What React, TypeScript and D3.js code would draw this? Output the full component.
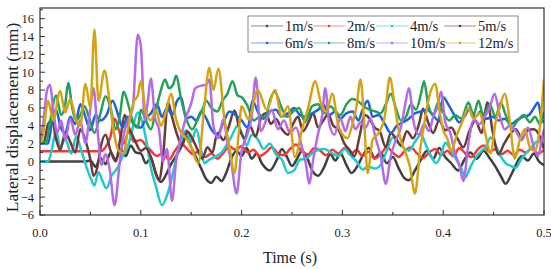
import { useEffect, useRef } from "react";
import * as d3 from "d3";

// Lateral displacement (mm) vs time (s) as [t, value] pairs
const labels = ["1m/s", "2m/s", "4m/s", "5m/s", "6m/s", "8m/s", "10m/s", "12m/s"];
const colors = ["#404040", "#ee3b3b", "#22c8cc", "#6b3a3a", "#1f62d8", "#27a05a", "#b46ce6", "#d4a417"];

const s1: [number, number][] = [[0,0],[0.045,0],[0.05,0.1],[0.055,-0.6],[0.06,0.4],[0.065,-0.3],[0.07,1.0],[0.075,0.2],[0.08,1.4],[0.085,0.6],[0.09,1.8],[0.095,1.0],[0.1,0.9],[0.105,-0.2],[0.11,0.4],[0.115,-1.4],[0.12,-2.3],[0.125,-1.5],[0.13,-0.3],[0.135,0.6],[0.14,1.6],[0.145,2.8],[0.15,1.6],[0.155,0.4],[0.16,-0.8],[0.165,-2.0],[0.17,-2.4],[0.175,-1.7],[0.18,-2.2],[0.185,-1.2],[0.19,0.4],[0.195,1.2],[0.2,0.6],[0.205,1.5],[0.21,0.3],[0.215,0.9],[0.22,-0.2],[0.228,-1.0],[0.235,0.2],[0.24,1.4],[0.245,0.5],[0.25,-0.5],[0.255,0.3],[0.26,1.2],[0.265,0.4],[0.27,-1.0],[0.276,-1.6],[0.282,-0.6],[0.288,0.8],[0.293,0.1],[0.298,0.9],[0.304,-0.4],[0.309,-1.3],[0.315,-0.5],[0.32,0.6],[0.326,1.5],[0.332,0.4],[0.338,1.0],[0.344,-0.2],[0.35,0.5],[0.356,-0.8],[0.361,-1.8],[0.366,-2.1],[0.372,-1.0],[0.378,0.2],[0.384,1.2],[0.39,0.3],[0.396,1.5],[0.402,0.5],[0.408,-0.2],[0.415,-1.0],[0.421,0.2],[0.427,1.0],[0.433,0.3],[0.44,1.2],[0.446,0.4],[0.452,-0.6],[0.457,-1.6],[0.462,-2.5],[0.467,-1.6],[0.472,-0.4],[0.478,0.6],[0.484,0.1],[0.49,0.9],[0.495,0.0],[0.5,-0.4]];
const s2: [number, number][] = [[0,1.15],[0.06,1.15],[0.065,1.6],[0.07,2.8],[0.074,4.8],[0.078,3.6],[0.083,2.0],[0.088,3.4],[0.093,2.2],[0.1,2.4],[0.105,1.8],[0.11,1.2],[0.116,0.6],[0.122,1.0],[0.128,0.2],[0.134,1.2],[0.14,2.0],[0.146,1.4],[0.152,0.8],[0.158,1.2],[0.164,0.5],[0.17,0.9],[0.176,0.3],[0.182,1.0],[0.188,1.7],[0.194,1.3],[0.2,1.7],[0.206,1.0],[0.212,1.3],[0.218,0.6],[0.224,1.0],[0.23,1.6],[0.236,0.9],[0.242,0.7],[0.248,1.4],[0.254,1.9],[0.26,1.1],[0.266,0.8],[0.272,1.5],[0.278,1.2],[0.284,0.7],[0.29,1.3],[0.296,0.9],[0.302,1.5],[0.308,0.8],[0.314,1.3],[0.32,0.6],[0.326,1.1],[0.332,0.3],[0.338,0.8],[0.344,1.6],[0.35,1.0],[0.356,0.5],[0.362,1.2],[0.368,1.6],[0.374,0.9],[0.38,0.4],[0.386,1.0],[0.392,1.4],[0.398,0.7],[0.404,1.2],[0.41,0.6],[0.416,1.5],[0.422,0.9],[0.428,0.5],[0.434,1.3],[0.44,1.8],[0.446,1.1],[0.452,1.4],[0.458,0.8],[0.464,1.2],[0.47,0.7],[0.476,1.3],[0.482,1.0],[0.488,1.5],[0.494,0.9],[0.5,1.3]];
const s4: [number, number][] = [[0,0],[0.008,0],[0.012,1.5],[0.016,3.5],[0.02,1.6],[0.025,2.5],[0.031,0.9],[0.036,2.8],[0.041,1.2],[0.046,-0.6],[0.05,-1.8],[0.054,-2.7],[0.058,-1.2],[0.062,-2.2],[0.066,-3.0],[0.071,-1.6],[0.077,-0.7],[0.082,0.6],[0.087,1.6],[0.092,3.8],[0.097,5.5],[0.101,4.6],[0.106,2.0],[0.11,-0.7],[0.115,-2.8],[0.121,-4.9],[0.126,-3.8],[0.13,-2.2],[0.135,0.3],[0.14,2.3],[0.145,3.5],[0.15,2.2],[0.155,3.6],[0.16,1.2],[0.163,-0.2],[0.168,0.2],[0.175,0.6],[0.18,1.0],[0.185,1.8],[0.19,2.8],[0.196,4.0],[0.2,3.3],[0.205,1.8],[0.21,3.0],[0.216,2.5],[0.222,1.4],[0.228,2.0],[0.234,0.8],[0.24,0.2],[0.246,-1.3],[0.252,-1.0],[0.258,0.2],[0.263,0.3],[0.27,0.9],[0.276,1.3],[0.282,1.4],[0.29,0.9],[0.296,0.6],[0.302,1.4],[0.308,0.7],[0.314,0.0],[0.32,-0.9],[0.326,-0.6],[0.332,-0.8],[0.338,-0.4],[0.344,1.2],[0.35,2.7],[0.356,2.0],[0.36,1.6],[0.366,1.2],[0.372,2.2],[0.378,3.0],[0.383,1.8],[0.388,0.6],[0.393,-0.2],[0.398,0.8],[0.402,2.1],[0.408,1.2],[0.413,0.2],[0.418,-0.8],[0.422,-1.8],[0.427,-0.6],[0.432,0.4],[0.438,1.2],[0.442,1.6],[0.447,2.7],[0.452,1.8],[0.457,0.6],[0.462,-0.2],[0.467,-0.5],[0.472,-0.7],[0.477,0.2],[0.482,0.9],[0.488,1.6],[0.494,2.3],[0.5,1.6]];
const s5: [number, number][] = [[0,2.0],[0.004,2.2],[0.008,4.2],[0.012,4.6],[0.016,2.5],[0.02,1.3],[0.025,3.2],[0.03,2.2],[0.035,1.0],[0.04,3.6],[0.045,2.4],[0.05,0.2],[0.053,-1.6],[0.057,-0.6],[0.06,1.5],[0.065,3.0],[0.07,1.2],[0.075,0.0],[0.08,2.8],[0.084,5.2],[0.089,3.6],[0.094,2.4],[0.1,1.2],[0.105,1.5],[0.11,0.5],[0.114,-1.0],[0.118,-2.1],[0.122,0.5],[0.127,6.6],[0.131,5.0],[0.136,3.0],[0.141,1.8],[0.146,3.4],[0.151,2.6],[0.156,1.4],[0.161,0.3],[0.166,1.6],[0.171,1.0],[0.176,3.2],[0.182,2.4],[0.187,3.8],[0.193,5.7],[0.198,3.6],[0.203,2.6],[0.208,4.0],[0.214,2.8],[0.219,4.8],[0.224,5.4],[0.229,4.2],[0.234,4.8],[0.24,3.6],[0.246,3.0],[0.251,4.2],[0.256,5.0],[0.261,3.4],[0.266,4.3],[0.271,5.4],[0.276,3.8],[0.281,4.6],[0.286,5.3],[0.291,4.0],[0.296,3.6],[0.302,2.0],[0.307,1.3],[0.312,0.6],[0.317,2.8],[0.322,5.2],[0.327,4.8],[0.332,3.8],[0.337,3.4],[0.343,1.6],[0.348,3.2],[0.353,2.6],[0.358,1.8],[0.364,3.4],[0.37,2.6],[0.376,4.2],[0.38,5.9],[0.385,4.4],[0.39,3.2],[0.396,4.6],[0.402,3.5],[0.408,3.8],[0.414,2.6],[0.42,1.6],[0.426,3.4],[0.432,4.6],[0.438,3.2],[0.444,6.6],[0.449,3.4],[0.455,0.8],[0.46,1.9],[0.466,3.0],[0.472,3.6],[0.478,2.6],[0.484,3.5],[0.49,3.6],[0.495,3.0],[0.5,1.4]];
const s6: [number, number][] = [[0,2.0],[0.008,2.0],[0.012,4.5],[0.016,5.8],[0.02,4.0],[0.025,3.2],[0.03,5.0],[0.035,4.2],[0.04,6.4],[0.045,5.0],[0.05,3.5],[0.055,5.2],[0.06,4.6],[0.066,5.2],[0.072,6.8],[0.077,5.4],[0.082,3.8],[0.087,5.0],[0.093,4.2],[0.1,3.8],[0.105,4.8],[0.11,5.4],[0.116,6.4],[0.121,5.0],[0.126,6.0],[0.131,5.2],[0.136,6.8],[0.14,7.2],[0.145,4.8],[0.15,5.0],[0.155,4.6],[0.16,5.6],[0.165,4.8],[0.17,3.6],[0.176,3.0],[0.182,4.4],[0.188,5.6],[0.194,5.2],[0.2,4.6],[0.206,3.8],[0.211,6.8],[0.216,5.6],[0.222,4.8],[0.228,5.6],[0.234,5.8],[0.24,5.0],[0.246,5.4],[0.252,6.0],[0.258,5.2],[0.264,5.0],[0.27,5.4],[0.276,5.8],[0.281,6.4],[0.287,5.2],[0.293,5.6],[0.298,4.8],[0.304,5.4],[0.31,5.6],[0.316,4.6],[0.32,5.8],[0.325,6.8],[0.33,5.0],[0.336,5.2],[0.342,4.2],[0.348,3.2],[0.354,4.0],[0.36,4.4],[0.366,4.8],[0.372,5.4],[0.378,5.6],[0.384,5.8],[0.39,5.2],[0.395,4.6],[0.4,7.2],[0.405,6.4],[0.41,5.4],[0.416,4.4],[0.421,5.0],[0.426,5.9],[0.432,5.0],[0.437,5.6],[0.443,4.8],[0.449,5.0],[0.455,4.6],[0.461,4.8],[0.467,4.2],[0.473,4.6],[0.479,5.0],[0.485,5.2],[0.49,6.0],[0.494,6.6],[0.498,4.6],[0.5,4.4]];
const s8: [number, number][] = [[0,2.1],[0.006,2.1],[0.01,4.5],[0.016,7.4],[0.021,5.2],[0.025,6.4],[0.028,8.8],[0.032,6.0],[0.036,4.6],[0.04,5.2],[0.044,6.2],[0.049,4.8],[0.054,3.2],[0.06,5.4],[0.065,7.3],[0.07,6.0],[0.075,3.6],[0.079,5.0],[0.083,7.8],[0.088,6.2],[0.093,4.2],[0.097,3.8],[0.1,5.8],[0.105,4.6],[0.11,3.6],[0.115,5.8],[0.12,8.0],[0.124,9.2],[0.128,8.2],[0.132,8.6],[0.135,9.6],[0.14,7.0],[0.145,4.8],[0.151,3.6],[0.156,4.6],[0.161,5.8],[0.165,6.8],[0.17,6.0],[0.176,5.6],[0.181,6.8],[0.186,7.6],[0.191,9.0],[0.196,7.4],[0.2,7.2],[0.206,6.2],[0.212,4.6],[0.218,5.0],[0.224,5.0],[0.228,6.8],[0.233,7.8],[0.239,6.2],[0.245,5.0],[0.251,5.6],[0.257,6.0],[0.263,4.4],[0.27,6.2],[0.276,6.4],[0.282,5.4],[0.288,6.2],[0.293,5.6],[0.298,5.2],[0.304,6.4],[0.31,7.0],[0.315,6.8],[0.321,6.2],[0.327,5.8],[0.333,5.6],[0.338,5.4],[0.343,6.4],[0.348,7.6],[0.353,6.0],[0.358,4.6],[0.363,5.0],[0.368,6.4],[0.373,5.8],[0.378,7.6],[0.381,9.0],[0.385,6.4],[0.39,5.2],[0.395,6.6],[0.4,5.5],[0.406,4.6],[0.412,5.2],[0.418,4.8],[0.425,6.6],[0.43,5.2],[0.435,6.8],[0.44,5.0],[0.446,6.4],[0.452,5.0],[0.457,6.6],[0.462,5.2],[0.468,3.8],[0.474,4.6],[0.48,5.2],[0.486,4.4],[0.491,5.0],[0.496,4.2],[0.5,5.6]];
const s10: [number, number][] = [[0,2.0],[0.003,4.0],[0.007,8.0],[0.01,8.6],[0.013,6.0],[0.017,3.2],[0.021,4.6],[0.025,2.4],[0.03,4.8],[0.035,3.0],[0.04,4.6],[0.045,2.0],[0.05,6.0],[0.053,8.2],[0.057,3.6],[0.061,-0.4],[0.065,0.8],[0.069,-0.8],[0.074,-4.9],[0.079,-0.2],[0.083,3.0],[0.088,4.8],[0.092,6.0],[0.097,14.2],[0.1,13.0],[0.104,4.6],[0.107,6.8],[0.11,9.3],[0.114,5.0],[0.118,3.6],[0.122,0.0],[0.126,1.4],[0.131,-4.4],[0.135,0.0],[0.14,2.8],[0.145,5.0],[0.15,6.5],[0.154,8.2],[0.16,8.5],[0.165,8.6],[0.168,9.2],[0.172,4.0],[0.177,2.6],[0.182,4.8],[0.186,2.0],[0.19,-0.3],[0.195,-3.6],[0.2,1.2],[0.205,2.8],[0.21,5.0],[0.214,9.4],[0.219,3.4],[0.225,4.8],[0.23,5.8],[0.236,3.6],[0.242,4.6],[0.248,3.2],[0.254,3.8],[0.259,2.0],[0.264,-0.4],[0.267,-2.5],[0.271,0.2],[0.276,3.2],[0.28,5.2],[0.283,8.2],[0.287,4.2],[0.292,3.0],[0.298,4.8],[0.303,3.4],[0.308,5.0],[0.313,3.6],[0.318,4.4],[0.323,3.8],[0.328,4.8],[0.333,2.6],[0.338,0.6],[0.343,-2.5],[0.348,0.6],[0.353,2.4],[0.358,3.8],[0.362,6.2],[0.366,8.2],[0.371,4.2],[0.376,3.0],[0.381,4.2],[0.386,3.4],[0.39,5.0],[0.394,6.0],[0.398,7.8],[0.402,4.4],[0.407,3.2],[0.412,0.8],[0.416,-0.4],[0.42,-2.2],[0.425,2.0],[0.43,4.6],[0.436,4.2],[0.441,5.0],[0.446,6.0],[0.451,7.6],[0.456,5.2],[0.461,3.6],[0.466,4.0],[0.472,3.4],[0.478,2.4],[0.484,3.8],[0.49,1.6],[0.494,0.6],[0.498,2.6],[0.5,3.6]];
const s12: [number, number][] = [[0,2.0],[0.003,3.0],[0.008,6.8],[0.013,4.6],[0.02,7.9],[0.025,5.5],[0.03,7.0],[0.036,4.6],[0.04,4.0],[0.045,8.7],[0.05,6.0],[0.054,14.8],[0.058,6.8],[0.064,10.2],[0.069,6.8],[0.074,2.8],[0.078,1.2],[0.083,0.9],[0.087,3.4],[0.093,6.7],[0.097,7.4],[0.1,9.0],[0.105,5.5],[0.11,4.6],[0.115,5.8],[0.12,4.0],[0.125,5.6],[0.13,7.6],[0.135,4.7],[0.14,3.2],[0.145,2.6],[0.15,1.6],[0.157,-0.2],[0.163,6.2],[0.168,10.5],[0.172,8.0],[0.177,10.4],[0.183,4.7],[0.188,1.6],[0.193,-1.3],[0.197,3.0],[0.2,6.2],[0.207,4.7],[0.216,8.0],[0.225,5.8],[0.233,8.0],[0.24,5.0],[0.246,6.2],[0.253,0.5],[0.26,3.6],[0.266,6.0],[0.273,9.0],[0.279,6.4],[0.284,5.6],[0.29,7.6],[0.296,4.0],[0.305,2.6],[0.31,4.2],[0.314,6.2],[0.318,9.2],[0.322,3.6],[0.325,-1.3],[0.33,2.4],[0.336,3.2],[0.342,5.0],[0.347,9.4],[0.352,6.2],[0.357,2.8],[0.362,1.2],[0.367,-0.6],[0.372,-3.6],[0.377,1.2],[0.382,4.8],[0.386,7.2],[0.392,8.7],[0.397,5.2],[0.4,3.5],[0.404,2.6],[0.408,1.2],[0.413,2.8],[0.418,4.2],[0.425,6.0],[0.43,4.8],[0.436,5.4],[0.442,3.0],[0.447,0.9],[0.452,4.4],[0.456,6.0],[0.461,7.6],[0.466,4.6],[0.471,0.3],[0.476,2.4],[0.481,3.6],[0.486,1.6],[0.491,1.2],[0.495,3.0],[0.5,9.2]];

const series = [s1, s2, s4, s5, s6, s8, s10, s12];

const xTicks = [0, 0.1, 0.2, 0.3, 0.4, 0.5];
const yTicks = [-6, -4, -2, 0, 2, 4, 6, 8, 10, 12, 14, 16];

const W = 551;
const H = 269;
const FONT = "'Liberation Serif', 'Times New Roman', serif";

export default function App() {
  const ref = useRef<SVGSVGElement>(null);

  useEffect(() => {
    const svg = d3.select(ref.current);
    svg.selectAll("*").remove();

    const left = 40, right = 544, top = 8, bottom = 215;
    const x = d3.scaleLinear().domain([0, 0.5]).range([left, right]);
    const y = d3.scaleLinear().domain([-6, 17.2]).range([bottom, top]);

    svg.append("rect").attr("width", W).attr("height", H).attr("fill", "#fff");

    svg.append("defs").append("clipPath").attr("id", "plot-clip")
      .append("rect")
      .attr("x", left).attr("y", top)
      .attr("width", right - left).attr("height", bottom - top);

    const line = d3.line<[number, number]>()
      .x((d) => x(d[0]))
      .y((d) => y(d[1]))
      .curve(d3.curveMonotoneX);

    const lines = svg.append("g").attr("clip-path", "url(#plot-clip)");
    series.forEach((s, i) => {
      lines.append("path")
        .attr("d", line(s))
        .attr("fill", "none")
        .attr("stroke", colors[i])
        .attr("stroke-width", 2.5)
        .attr("stroke-linejoin", "round");
    });

    // frame
    svg.append("rect")
      .attr("x", left).attr("y", top)
      .attr("width", right - left).attr("height", bottom - top)
      .attr("fill", "none")
      .attr("stroke", "#333")
      .attr("stroke-width", 1.2);

    // y axis ticks (inward), minor every 1
    const yAxis = svg.append("g");
    d3.range(-6, 18, 1).forEach((v) => {
      const major = v % 2 === 0;
      yAxis.append("line")
        .attr("x1", left).attr("x2", left + (major ? 5 : 3))
        .attr("y1", y(v)).attr("y2", y(v))
        .attr("stroke", "#333").attr("stroke-width", 1);
    });
    yTicks.forEach((v) => {
      yAxis.append("text")
        .attr("x", left - 6)
        .attr("y", y(v))
        .attr("dy", "0.35em")
        .attr("text-anchor", "end")
        .attr("font-family", FONT)
        .attr("font-size", 12.5)
        .attr("fill", "#222")
        .text(d3.format("d")(v).replace("-", "\u2212"));
    });

    // x axis ticks (inward), minor every 0.05
    const xAxis = svg.append("g");
    d3.range(0, 0.501, 0.05).forEach((v, i) => {
      const major = i % 2 === 0;
      xAxis.append("line")
        .attr("x1", x(v)).attr("x2", x(v))
        .attr("y1", bottom).attr("y2", bottom - (major ? 5 : 3))
        .attr("stroke", "#333").attr("stroke-width", 1);
    });
    xTicks.forEach((v) => {
      xAxis.append("text")
        .attr("x", x(v))
        .attr("y", 237)
        .attr("text-anchor", "middle")
        .attr("font-family", FONT)
        .attr("font-size", 12.5)
        .attr("fill", "#222")
        .text(d3.format(".1f")(v));
    });

    svg.append("text")
      .attr("x", (left + right) / 2 - 2)
      .attr("y", 263)
      .attr("text-anchor", "middle")
      .attr("font-family", FONT)
      .attr("font-size", 16)
      .attr("fill", "#222")
      .text("Time (s)");

    svg.append("text")
      .attr("transform", `translate(18,${(top + bottom) / 2 + 6}) rotate(-90)`)
      .attr("text-anchor", "middle")
      .attr("font-family", FONT)
      .attr("font-size", 17.5)
      .attr("fill", "#222")
      .text("Lateral displacement (mm)");

    // legend
    const lg = svg.append("g");
    lg.append("rect")
      .attr("x", 248).attr("y", 16)
      .attr("width", 270).attr("height", 36)
      .attr("fill", "#fff")
      .attr("stroke", "#888")
      .attr("stroke-width", 1);
    const colX = [251, 313, 376, 444];
    const rowY = [26, 43];
    labels.forEach((lab, i) => {
      const cx = colX[i % 4];
      const cy = rowY[Math.floor(i / 4)];
      lg.append("line")
        .attr("x1", cx).attr("x2", cx + 32)
        .attr("y1", cy).attr("y2", cy)
        .attr("stroke", colors[i])
        .attr("stroke-opacity", 0.4)
        .attr("stroke-width", 1.5);
      lg.append("circle")
        .attr("cx", cx + 16).attr("cy", cy).attr("r", 1.3)
        .attr("fill", colors[i]);
      lg.append("text")
        .attr("x", cx + 34)
        .attr("y", cy)
        .attr("dy", "0.35em")
        .attr("font-family", FONT)
        .attr("font-size", 14.5)
        .attr("fill", "#222")
        .text(lab);
    });
  }, []);

  return (
    <svg
      ref={ref}
      width={W}
      height={H}
      style={{ position: "absolute", left: 0, top: 0 }}
    />
  );
}
